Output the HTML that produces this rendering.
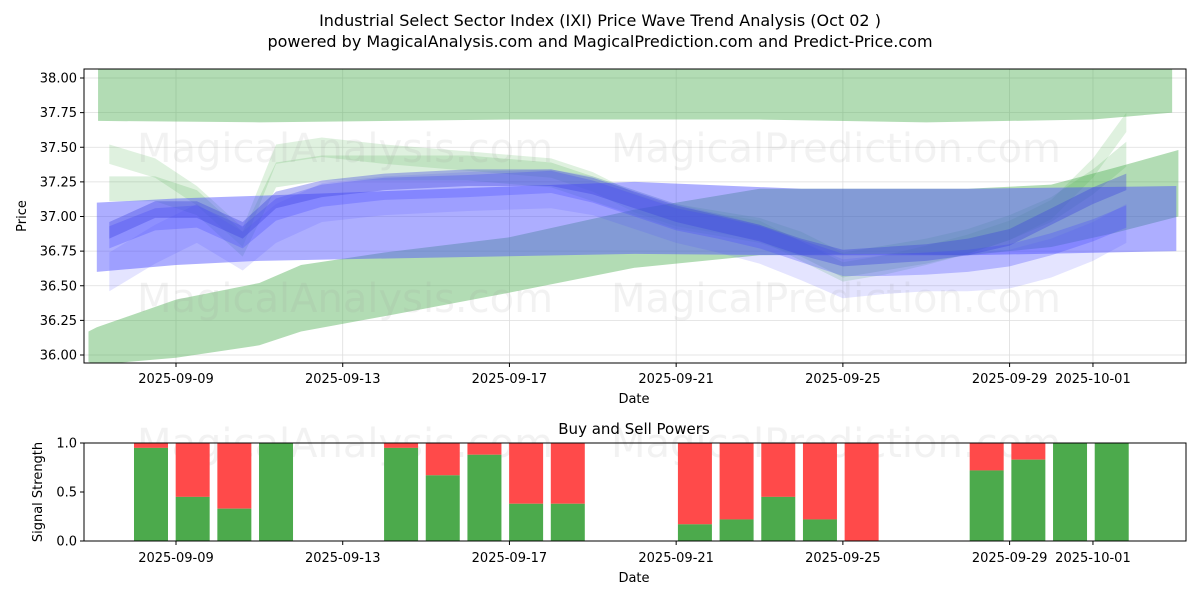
<!DOCTYPE html>
<html><head><meta charset="utf-8"><style>
body{margin:0;background:#fff;font-family:"Liberation Sans","DejaVu Sans",sans-serif}
svg text{font-family:"DejaVu Sans","Liberation Sans",sans-serif}
</style></head><body>
<svg id="c" width="1200" height="600" xmlns="http://www.w3.org/2000/svg">
<rect width="1200" height="600" fill="#fff"/>
<defs><clipPath id="cp"><rect x="84" y="69" width="1102" height="294"/></clipPath></defs>
<text x="600" y="26" font-size="16" text-anchor="middle">Industrial Select Sector Index (IXI) Price Wave Trend Analysis (Oct 02 )</text>
<text x="600" y="47" font-size="16" text-anchor="middle">powered by MagicalAnalysis.com and MagicalPrediction.com and Predict-Price.com</text>
<g id="topg"></g><g id="botg"></g>
</svg>
<script>
// ---- data ----
const tickDays=[0,4,8,12,16,20,22];
const tickLabels=["2025-09-09","2025-09-13","2025-09-17","2025-09-21","2025-09-25","2025-09-29","2025-10-01"];
const priceTicks=[36.00,36.25,36.50,36.75,37.00,37.25,37.50,37.75,38.00];
// bands (day offset from 2025-09-09)
const greenTopDays=[-1.87,2,8,14,18,22,23.9];
const greenTopUpper=[38.07,38.07,38.07,38.07,38.07,38.07,38.07];
const greenTopLower=[37.69,37.68,37.70,37.70,37.68,37.70,37.75];
const greenLowDays=[-2.1,-1.9,0,2,3,5,8,11,14,17,19,21,22.5,24.05];
const greenLowUpper=[36.17,36.2,36.4,36.52,36.65,36.74,36.85,37.05,37.2,37.2,37.2,37.23,37.35,37.48];
const greenLowLower=[35.95,35.93,35.98,36.07,36.17,36.28,36.45,36.63,36.72,36.73,36.72,36.78,36.88,37.0];
const blueWideDays=[-1.9,0,2,11,15,19,24];
const blueWideUpper=[37.1,37.13,37.15,37.25,37.2,37.2,37.22];
const blueWideLower=[36.6,36.65,36.68,36.73,36.72,36.72,36.75];
const waveDays=[-1.6,-0.5,0.5,1.6,2.4,3.5,5,7,9,10,11,12,13,14,15,16,17,18,19,20,21,22,22.8];
const waveA=[36.9,37.05,37.05,36.9,37.12,37.2,37.25,37.28,37.28,37.22,37.12,37.02,36.95,36.88,36.78,36.7,36.72,36.74,36.78,36.85,37.0,37.15,37.25];
const waveB=[36.85,36.98,37.0,36.85,37.05,37.15,37.2,37.22,37.25,37.18,37.08,36.98,36.92,36.85,36.75,36.65,36.65,36.66,36.68,36.72,36.8,36.9,37.0];
const waveC=[36.6,36.8,36.95,36.75,36.95,37.1,37.15,37.18,37.2,37.15,37.05,36.95,36.88,36.8,36.68,36.55,36.58,36.6,36.6,36.62,36.7,36.82,36.95];
const waveG1=[37.45,37.35,37.15,36.85,37.45,37.5,37.45,37.4,37.35,37.25,37.1,37.0,36.95,36.9,36.75,36.6,36.65,36.72,36.8,36.9,37.05,37.35,37.68];
const waveG2=[37.2,37.2,37.1,36.8,37.3,37.35,37.35,37.35,37.3,37.2,37.1,37.0,36.95,36.9,36.8,36.65,36.7,36.75,36.82,36.92,37.05,37.25,37.45];
const buyDays=[-0.6,0.4,1.4,2.4,5.4,6.4,7.4,8.4,9.4,12.45,13.45,14.45,15.45,16.45,19.45,20.45,21.45,22.45];
const buyVals=[0.95,0.45,0.33,1.0,0.95,0.67,0.88,0.38,0.38,0.17,0.22,0.45,0.22,0.0,0.72,0.83,1.0,1.0];
// ---- axes ----
const NS="http://www.w3.org/2000/svg";
const L=84,R=1186,T1=69,B1=363,T2=443,B2=541;
const xd=d=>176+d*41.68;
const yp=p=>78+(38-p)*138.5;
const ys=v=>B2-v*(B2-T2);
function mk(tag,attrs,parent){const e=document.createElementNS(NS,tag);for(const k in attrs)e.setAttribute(k,attrs[k]);parent.appendChild(e);return e;}
const topG=document.getElementById('topg'),botG=document.getElementById('botg');
tickDays.forEach(d=>mk('line',{x1:xd(d),x2:xd(d),y1:T1,y2:B1,stroke:'#ddd','stroke-width':0.8},topG));
priceTicks.forEach(p=>mk('line',{x1:L,x2:R,y1:yp(p),y2:yp(p),stroke:'#ddd','stroke-width':0.8},topG));
const g=mk('g',{'clip-path':'url(#cp)'},topG);
function band(days,up,lo,color,op,name){
  let pts=days.map((d,i)=>xd(d)+','+yp(up[i]));
  pts=pts.concat(days.map((d,i)=>xd(d)+','+yp(lo[i])).reverse());
  const e=mk('polygon',{points:pts.join(' '),fill:color,'fill-opacity':op},g);
  
  
}
function wave(arr,w,color,op,name){band(waveDays,arr.map(v=>v+w),arr.map(v=>v-w),color,op,name);}
band(greenTopDays,greenTopUpper,greenTopLower,'#4caf50',0.43,'green-band-upper');
wave(waveG1,0.07,'#4caf50',0.18,'green-wave-1');
wave(waveG2,0.09,'#4caf50',0.2,'green-wave-2');
band(greenLowDays,greenLowUpper,greenLowLower,'#4caf50',0.43,'green-band-lower');
band(blueWideDays,blueWideUpper,blueWideLower,'#4a4cff',0.45,'blue-band-wide');
wave(waveC,0.14,'#4a4cff',0.15,'blue-wave-c');
wave(waveB,0.08,'#4a4cff',0.3,'blue-wave-b');
wave(waveA,0.06,'#3a40e0',0.35,'blue-wave-a');
[[345,162,'MagicalAnalysis.com'],[836,162,'MagicalPrediction.com'],[345,312,'MagicalAnalysis.com'],[836,312,'MagicalPrediction.com'],[345,457,'MagicalAnalysis.com'],[836,457,'MagicalPrediction.com']].forEach(w=>{
  const t=mk('text',{x:w[0],y:w[1],'font-size':40,'text-anchor':'middle',fill:'#999','fill-opacity':0.13},w[1]>400?botG:topG);t.textContent=w[2];
  
  });
mk('rect',{x:L,y:T1,width:R-L,height:B1-T1,fill:'none',stroke:'#000','stroke-width':1},topG);
tickDays.forEach((d,i)=>{mk('line',{x1:xd(d),x2:xd(d),y1:B1,y2:B1+4,stroke:'#000'},topG);
  const t=mk('text',{x:xd(d),y:B1+20,'font-size':13,'text-anchor':'middle'},topG);t.textContent=tickLabels[i];
  
  });
priceTicks.forEach(p=>{mk('line',{x1:L-4,x2:L,y1:yp(p),y2:yp(p),stroke:'#000'},topG);
  const t=mk('text',{x:L-7,y:yp(p)+4.5,'font-size':13,'text-anchor':'end'},topG);t.textContent=p.toFixed(2);
  
  });
let t=mk('text',{x:634,y:403,'font-size':13,'text-anchor':'middle'},topG);t.textContent='Date';


t=mk('text',{x:26,y:216,'font-size':13,'text-anchor':'middle',transform:'rotate(-90 26 216)'},topG);t.textContent='Price';


buyDays.forEach((d,i)=>{const x=xd(d)-17;
  const s=mk('rect',{x:x,y:T2,width:34,height:ys(buyVals[i])-T2,fill:'#ff4a4a'},botG);
  
  
  const b=mk('rect',{x:x,y:ys(buyVals[i]),width:34,height:B2-ys(buyVals[i]),fill:'#4caa4c'},botG);
  
  });
mk('rect',{x:L,y:T2,width:R-L,height:B2-T2,fill:'none',stroke:'#000','stroke-width':1},botG);
tickDays.forEach((d,i)=>{mk('line',{x1:xd(d),x2:xd(d),y1:B2,y2:B2+4,stroke:'#000'},botG);
  const t=mk('text',{x:xd(d),y:B2+21,'font-size':13,'text-anchor':'middle'},botG);t.textContent=tickLabels[i];
  
  });
[0,0.5,1].forEach(v=>{mk('line',{x1:L-4,x2:L,y1:ys(v),y2:ys(v),stroke:'#000'},botG);
  const t=mk('text',{x:L-7,y:ys(v)+4.5,'font-size':13,'text-anchor':'end'},botG);t.textContent=v.toFixed(1);
  
  });
t=mk('text',{x:634,y:434,'font-size':15,'text-anchor':'middle'},botG);t.textContent='Buy and Sell Powers';


t=mk('text',{x:634,y:582,'font-size':13,'text-anchor':'middle'},botG);t.textContent='Date';


t=mk('text',{x:42,y:492,'font-size':13,'text-anchor':'middle',transform:'rotate(-90 42 492)'},botG);t.textContent='Signal Strength';


</script>
</body></html>
